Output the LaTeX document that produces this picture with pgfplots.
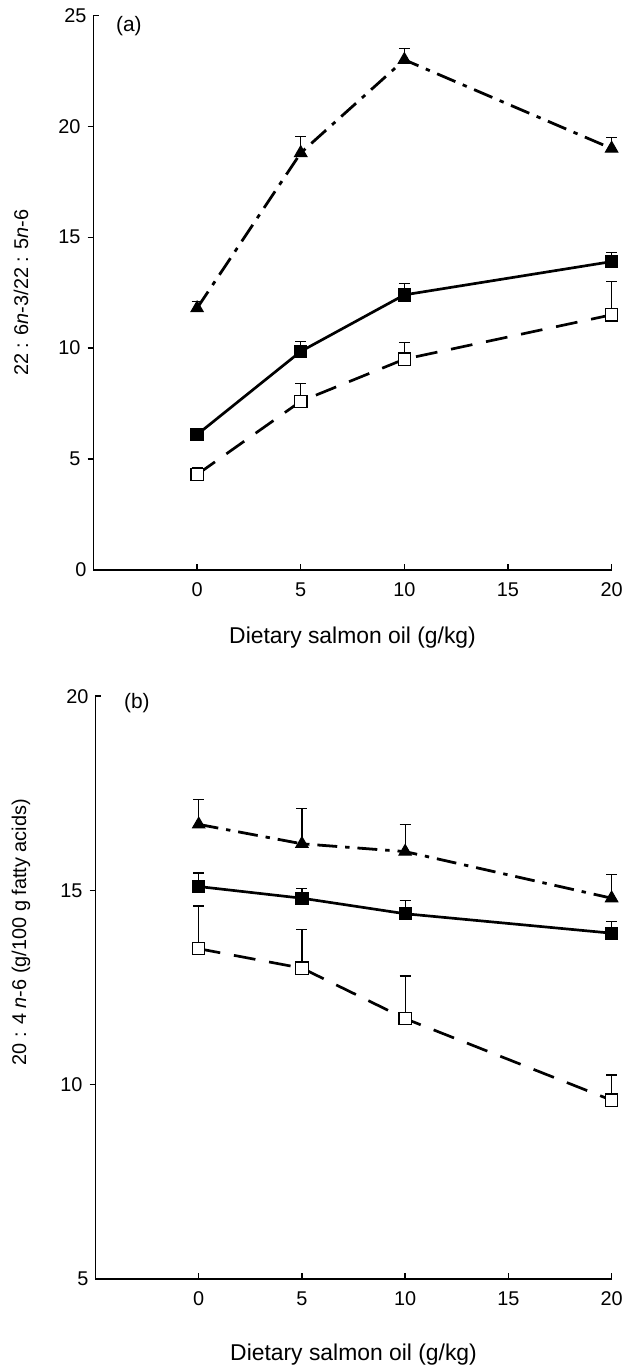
\documentclass[border=0pt]{standalone}
\usepackage{fontspec}
\setmainfont{Liberation Sans}
\usepackage{pgfplots}
\pgfplotsset{compat=1.18}

\pgfplotsset{
  salmonpanel/.style={
    scale only axis,
    axis lines*=left,
    axis line style={line width=0.7pt},
    xmin=-5, xmax=20,
    xtick={0,5,10,15,20},
    tick align=outside,
    major tick length=3pt,
    tick style={line width=0.7pt, black},
    x tick style={yshift=3pt},
    extra y tick style={tick align=inside},
    /pgf/number format/assume math mode=true,
    tick label style={font=\fontsize{10}{12}\selectfont},
    xlabel style={font=\fontsize{11.5}{13}\selectfont},
    ylabel style={font=\fontsize{10}{12}\selectfont},
    clip=false,
  },
  tri/.style={black, line width=1.4pt, dash pattern=on 10pt off 4pt on 2.2pt off 4pt,
    mark=triangle*, mark size=3.6pt, mark options={solid, fill=black, line width=0.5pt}},
  fsq/.style={black, line width=1.35pt, mark=square*, mark size=3.1pt,
    mark options={solid, fill=black, line width=0.5pt}},
  osq/.style={black, line width=1.35pt, dash pattern=on 11pt off 7pt,
    mark=square*, mark size=3.1pt, mark options={solid, fill=white, line width=0.6pt}},
  ebar/.style={error bars/.cd, y dir=plus, y explicit, error mark=|,
    error bar style={line width=0.6pt, solid},
    error mark options={line width=0.6pt, mark size=2.75pt, solid}},
}

% panel (a): 22:6n-3 / 22:5n-6 ratio
\pgfplotstableread{
x y e
0 11.8 0.3
5 18.8 0.75
10 23.0 0.5
20 19.0 0.5
}\aTri
\pgfplotstableread{
x y e
0 6.1 0.1
5 9.85 0.45
10 12.4 0.5
20 13.9 0.4
}\aFsq
\pgfplotstableread{
x y e
0 4.3 0.3
5 7.6 0.8
10 9.5 0.75
20 11.5 1.5
}\aOsq

% panel (b): 20:4n-6
\pgfplotstableread{
x y e
0 16.7 0.65
5 16.2 0.9
10 16.0 0.7
20 14.8 0.6
}\bTri
\pgfplotstableread{
x y e
0 15.1 0.35
5 14.8 0.25
10 14.4 0.35
20 13.9 0.3
}\bFsq
\pgfplotstableread{
x y e
0 13.5 1.1
5 13.0 1.0
10 11.7 1.1
20 9.6 0.65
}\bOsq

\begin{document}
\begin{tikzpicture}
\path (0,0) rectangle (313.5pt,-686pt);

\begin{axis}[salmonpanel,
  at={(47pt,-7.75pt)}, anchor=north west,
  width=260.5pt, height=278.75pt,
  ymin=0, ymax=25,
  ytick={5,10,15,20}, extra y ticks={0,25},
  xlabel={Dietary salmon oil (g/kg)},
  ylabel={22 : 6\textit{n}-3/22 : 5\textit{n}-6},
  xlabel style={at={(axis description cs:0.5,-0.122)}, anchor=center},
  ylabel style={at={(axis description cs:-0.14,0.5)}, anchor=center},
]
\addplot[tri, ebar] table[x=x, y=y, y error=e] {\aTri};
\addplot[fsq, ebar] table[x=x, y=y, y error=e] {\aFsq};
\addplot[osq, ebar] table[x=x, y=y, y error=e] {\aOsq};
\node[anchor=west, font=\fontsize{10.5}{12}\selectfont] at (axis description cs:0.03,0.981) {(a)};
\end{axis}

\begin{axis}[salmonpanel,
  at={(48pt,-350pt)}, anchor=north west,
  width=259.5pt, height=293pt,
  ymin=5, ymax=20,
  ytick={10,15}, extra y ticks={5,20},
  xlabel={Dietary salmon oil (g/kg)},
  ylabel={20 : 4 \textit{n}-6 (g/100 g fatty acids)},
  xlabel style={at={(axis description cs:0.5,-0.13)}, anchor=center},
  ylabel style={at={(axis description cs:-0.1445,0.595)}, anchor=center},
]
\addplot[tri, ebar] table[x=x, y=y, y error=e] {\bTri};
\addplot[fsq, ebar] table[x=x, y=y, y error=e] {\bFsq};
\addplot[osq, ebar] table[x=x, y=y, y error=e] {\bOsq};
\node[anchor=west, font=\fontsize{10.5}{12}\selectfont] at (axis description cs:0.042,0.988) {(b)};
\end{axis}
\end{tikzpicture}
\end{document}
